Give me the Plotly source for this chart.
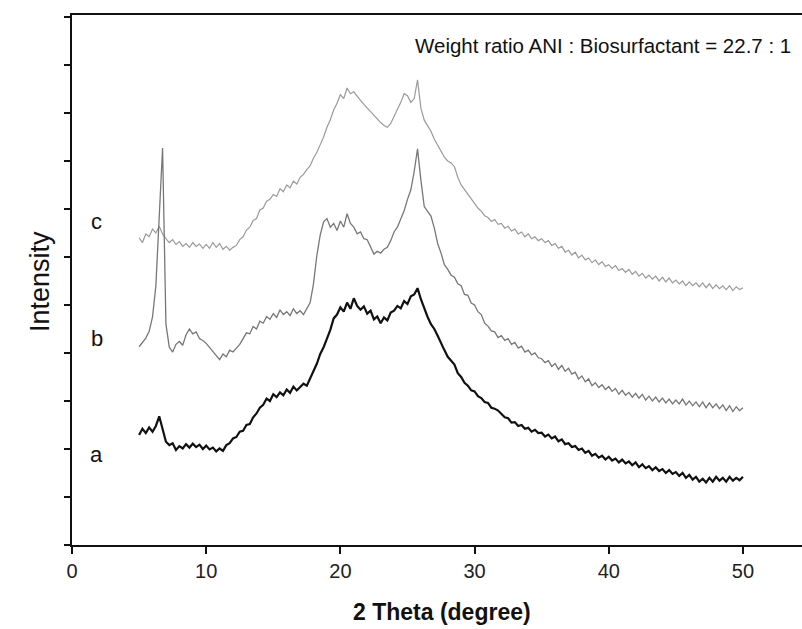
import plotly.graph_objects as go

# 2-theta grid: 5.00 .. 50.00 step 0.25 (181 points)
two_theta = [round(5 + 0.25 * i, 2) for i in range(181)]

curve_a = [
    2.29, 2.42, 2.33, 2.45, 2.36, 2.48, 2.68, 2.40, 2.15, 2.08, 2.12, 1.98, 2.06, 2.01, 2.10, 2.03, 2.11, 2.04, 2.09, 2.00,
    2.07, 1.99, 2.03, 1.95, 2.01, 1.96, 2.08, 2.12, 2.22, 2.25, 2.36, 2.38, 2.50, 2.52, 2.66, 2.74, 2.86, 2.92, 3.05, 3.00,
    3.14, 3.08, 3.18, 3.12, 3.24, 3.17, 3.30, 3.22, 3.28, 3.36, 3.32, 3.48, 3.62, 3.78, 3.98, 4.12, 4.30, 4.48, 4.72, 4.80,
    4.95, 4.86, 5.05, 4.92, 5.14, 4.98, 4.90, 4.97, 4.82, 4.88, 4.70, 4.76, 4.62, 4.74, 4.68, 4.84, 4.88, 4.98, 4.93, 5.08,
    5.02, 5.18, 5.22, 5.35, 5.12, 4.92, 4.75, 4.60, 4.50, 4.36, 4.20, 4.06, 3.92, 3.84, 3.76, 3.58, 3.50, 3.38, 3.32, 3.22,
    3.20, 3.10, 3.06, 2.98, 2.96, 2.86, 2.84, 2.80, 2.74, 2.66, 2.64, 2.55, 2.56, 2.48, 2.50, 2.42, 2.44, 2.36, 2.40, 2.33,
    2.34, 2.26, 2.30, 2.22, 2.26, 2.16, 2.20, 2.10, 2.12, 2.04, 2.06, 1.98, 2.01, 1.92, 1.96, 1.86, 1.90, 1.82, 1.86, 1.78,
    1.84, 1.76, 1.80, 1.72, 1.78, 1.70, 1.74, 1.66, 1.72, 1.62, 1.68, 1.60, 1.64, 1.56, 1.62, 1.54, 1.58, 1.50, 1.56, 1.48,
    1.52, 1.44, 1.50, 1.40, 1.46, 1.36, 1.42, 1.32, 1.38, 1.30, 1.40, 1.32, 1.42, 1.34, 1.40, 1.32, 1.42, 1.34, 1.40, 1.35,
    1.42,
]

curve_b = [
    4.13, 4.22, 4.31, 4.45, 4.75, 5.40, 6.90, 8.27, 4.60, 4.12, 4.02, 4.18, 4.24, 4.16, 4.38, 4.50, 4.40, 4.44, 4.30, 4.26,
    4.20, 4.12, 4.02, 3.94, 3.86, 3.98, 3.92, 4.06, 4.02, 4.10, 4.18, 4.30, 4.42, 4.40, 4.55, 4.50, 4.66, 4.62, 4.76, 4.70,
    4.82, 4.74, 4.90, 4.80, 4.86, 4.78, 4.92, 4.82, 4.88, 4.80, 4.94, 5.05, 5.45, 6.04, 6.46, 6.73, 6.80, 6.62, 6.70, 6.55,
    6.75, 6.62, 6.90, 6.70, 6.62, 6.48, 6.52, 6.38, 6.36, 6.20, 6.06, 6.12, 6.08, 6.16, 6.20, 6.34, 6.52, 6.62, 6.80, 6.96,
    7.20, 7.40, 7.78, 8.25, 7.60, 7.05, 6.95, 6.85, 6.60, 6.28, 6.08, 5.84, 5.74, 5.62, 5.58, 5.44, 5.40, 5.22, 5.20, 5.04,
    5.00, 4.86, 4.80, 4.62, 4.56, 4.46, 4.44, 4.32, 4.36, 4.26, 4.30, 4.18, 4.22, 4.10, 4.14, 4.02, 4.06, 3.96, 4.00, 3.90,
    3.88, 3.80, 3.84, 3.72, 3.78, 3.66, 3.74, 3.62, 3.68, 3.56, 3.60, 3.46, 3.52, 3.40, 3.46, 3.32, 3.38, 3.28, 3.34, 3.24,
    3.30, 3.20, 3.26, 3.14, 3.22, 3.12, 3.18, 3.08, 3.16, 3.06, 3.14, 3.02, 3.10, 3.00, 3.08, 2.98, 3.06, 2.96, 3.04, 2.94,
    3.02, 2.94, 3.04, 2.92, 3.00, 2.90, 2.98, 2.88, 2.98, 2.86, 2.96, 2.86, 2.94, 2.84, 2.92, 2.80, 2.90, 2.78, 2.88, 2.80,
    2.86,
]

curve_c = [
    6.40, 6.30, 6.48, 6.42, 6.58, 6.50, 6.64, 6.48, 6.38, 6.30, 6.36, 6.26, 6.32, 6.22, 6.28, 6.20, 6.30, 6.22, 6.27, 6.18,
    6.26, 6.18, 6.30, 6.20, 6.28, 6.16, 6.22, 6.14, 6.20, 6.24, 6.36, 6.42, 6.56, 6.62, 6.76, 6.80, 6.98, 7.02, 7.16, 7.20,
    7.30, 7.26, 7.42, 7.36, 7.50, 7.44, 7.58, 7.52, 7.66, 7.72, 7.82, 7.90, 8.06, 8.18, 8.34, 8.50, 8.70, 8.86, 9.06, 9.20,
    9.38, 9.30, 9.52, 9.40, 9.44, 9.34, 9.26, 9.18, 9.10, 9.02, 8.96, 8.86, 8.80, 8.74, 8.70, 8.78, 8.92, 9.06, 9.22, 9.40,
    9.36, 9.22, 9.30, 9.69, 9.10, 8.85, 8.72, 8.62, 8.45, 8.32, 8.20, 8.08, 8.00, 7.96, 7.88, 7.66, 7.50, 7.40, 7.30, 7.20,
    7.10, 7.02, 6.95, 6.86, 6.82, 6.74, 6.78, 6.68, 6.70, 6.60, 6.64, 6.54, 6.58, 6.48, 6.52, 6.42, 6.48, 6.38, 6.42, 6.34,
    6.38, 6.30, 6.34, 6.24, 6.28, 6.18, 6.22, 6.10, 6.14, 6.04, 6.10, 5.98, 6.04, 5.94, 5.98, 5.88, 5.94, 5.84, 5.90, 5.80,
    5.84, 5.76, 5.82, 5.72, 5.76, 5.68, 5.74, 5.64, 5.70, 5.60, 5.66, 5.56, 5.62, 5.54, 5.60, 5.50, 5.58, 5.48, 5.56, 5.46,
    5.52, 5.44, 5.50, 5.40, 5.48, 5.40, 5.46, 5.38, 5.46, 5.36, 5.44, 5.34, 5.42, 5.34, 5.40, 5.32, 5.40, 5.30, 5.38, 5.32,
    5.36,
]

curve_labels = ["a", "b", "c"]
label_y = [1.875, 4.31, 6.73]
label_x = 1.86
x_ticks = [0, 10, 20, 30, 40, 50]

FONT = "Liberation Sans, Arial, sans-serif"

fig = go.Figure()
fig.add_trace(go.Scatter(x=two_theta, y=curve_c, mode="lines",
                         line=dict(color="#9a9a9a", width=1.2), showlegend=False))
fig.add_trace(go.Scatter(x=two_theta, y=curve_b, mode="lines",
                         line=dict(color="#777777", width=1.3), showlegend=False))
fig.add_trace(go.Scatter(x=two_theta, y=curve_a, mode="lines",
                         line=dict(color="#111111", width=2.2), showlegend=False))

annotations = []
for lab, yy in zip(curve_labels, label_y):
    annotations.append(dict(x=label_x, y=yy, xref="x", yref="y", text=lab, showarrow=False,
                            font=dict(family=FONT, size=22, color="#111")))
annotations.append(dict(x=53.73, y=10.40, xref="x", yref="y", xanchor="right",
                        text="Weight ratio ANI : Biosurfactant = 22.7 : 1", showarrow=False,
                        font=dict(family=FONT, size=20.5, color="#111")))
annotations.append(dict(x=(23 - 72) / 730, y=(545 - 282) / 530, xref="paper", yref="paper",
                        textangle=-90, text="Intensity", showarrow=False,
                        font=dict(family=FONT, size=27, color="#111")))
annotations.append(dict(x=(442 - 72) / 730, y=-(612 - 545) / 530, xref="paper", yref="paper",
                        xanchor="center", yanchor="middle",
                        text="<b>2 Theta (degree)</b>", showarrow=False,
                        font=dict(family=FONT, size=23, color="#111")))

fig.update_layout(
    width=802, height=629,
    margin=dict(l=72, r=0, t=15, b=84),
    paper_bgcolor="white", plot_bgcolor="white",
    annotations=annotations,
    font=dict(family=FONT, color="#111"),
)
fig.update_xaxes(range=[0, 54.4], tickvals=x_ticks, ticks="outside", ticklen=7, tickwidth=1.5,
                 tickcolor="#111", showline=True, linecolor="#111", linewidth=2, mirror=True,
                 showgrid=False, zeroline=False, tickfont=dict(family=FONT, size=20, color="#222"))
fig.update_yaxes(range=[0, 11.04], dtick=1, tick0=0, ticks="outside", ticklen=6, tickwidth=1.5,
                 tickcolor="#111", showline=True, linecolor="#111", linewidth=2,
                 showticklabels=False, showgrid=False, zeroline=False)

fig.write_html("out.html")
